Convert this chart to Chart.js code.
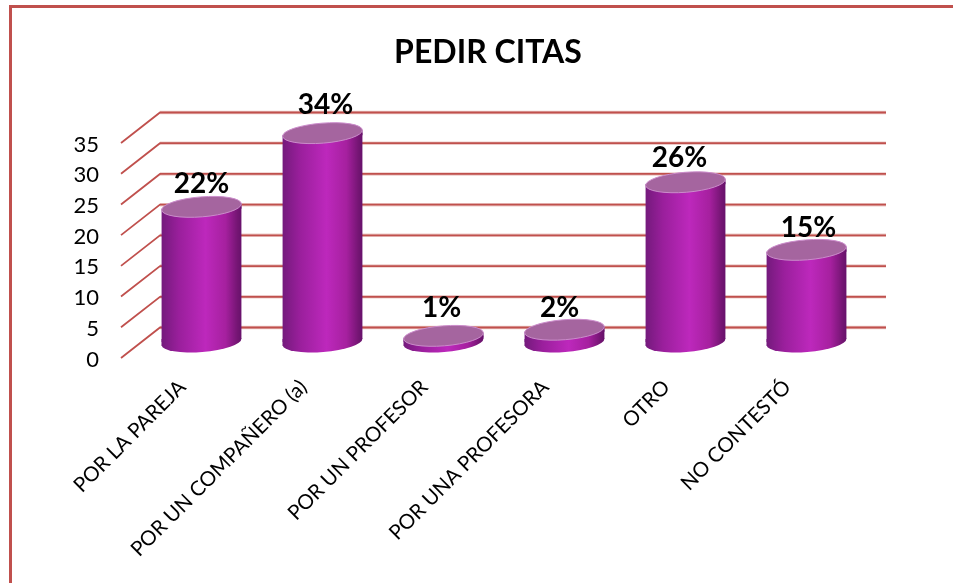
<!DOCTYPE html>
<html lang="es">
<head>
<meta charset="utf-8">
<title>PEDIR CITAS</title>
<style>
html,body{margin:0;padding:0;background:#fff;overflow:hidden;width:953px;height:583px}
#frame{position:absolute;left:9px;top:5px;width:944px;height:578px;border-top:3px solid #C0504D;border-left:3px solid #C0504D;box-sizing:border-box}
#wrap{position:absolute;left:23px;top:0;width:930px;height:583px}
canvas{display:block}
</style>
</head>
<body>
<div id="frame"></div>
<div id="wrap"><canvas id="c" width="930" height="583"></canvas></div>
<script src="https://cdn.jsdelivr.net/npm/chart.js@4/dist/chart.umd.min.js"></script>
<script>
const titleText = "PEDIR CITAS";
const categories = ["POR LA PAREJA", "POR UN COMPAÑERO (a)", "POR UN PROFESOR", "POR UNA PROFESORA", "OTRO", "NO CONTESTÓ"];
const values = [22, 34, 1, 2, 26, 15];
const yTicks = [0, 5, 10, 15, 20, 25, 30, 35];
const labelNudgeX = [0, 3, -2, -5, -6, 2];
const labelNudgeY = [-24, -29, -29, -23, -25, -23];

const FONT = "Lato, Carlito, sans-serif";
const DEPTH_X = 39, DEPTH_Y = 30.5;      // depth of the 3D floor
const MID_Y = 16;                        // bars stand half way into the depth
const GRID_RIGHT = 863, RED = "#C0504D";
const RX = 40, RY = 10, TILT = -0.08;
const TIP = RX * Math.sin(-TILT);

function barGradient(ctx, x) {
  const g = ctx.createLinearGradient(x - RX, 0, x + RX, 0);
  g.addColorStop(0, "#741A7C");
  g.addColorStop(0.22, "#9A1F9C");
  g.addColorStop(0.55, "#BD28BC");
  g.addColorStop(0.8, "#A6209F");
  g.addColorStop(0.95, "#741573");
  g.addColorStop(1, "#67116B");
  return g;
}

const scene = {
  id: "scene",
  beforeDatasetsDraw(chart) {
    const { ctx, scales: { x, y } } = chart;
    ctx.save();
    yTicks.forEach(v => {
      const py = y.getPixelForValue(v);
      const fx = x.left - 20, bx = fx + DEPTH_X, by = py - DEPTH_Y;
      ctx.strokeStyle = "rgba(192,80,77,0.3)"; ctx.lineWidth = 3.5;
      ctx.beginPath(); ctx.moveTo(bx, by); ctx.lineTo(GRID_RIGHT, by); ctx.stroke();
      ctx.strokeStyle = RED; ctx.lineWidth = 1.8;
      ctx.beginPath(); ctx.moveTo(fx, py); ctx.lineTo(bx, by); ctx.lineTo(GRID_RIGHT, by);
      ctx.stroke();
    });
    ctx.restore();

    // Bars stand half way into the depth, clipped to the tilted cylinder body
    const bars = chart.getDatasetMeta(0).data;
    ctx.save();
    ctx.translate(0, -MID_Y);
    bars.forEach(b => {
      ctx.fillStyle = barGradient(ctx, b.x);
      ctx.beginPath();
      ctx.ellipse(b.x, b.base, RX, RY, TILT, 0, Math.PI * 2);
      ctx.fill();
      ctx.beginPath();
      ctx.moveTo(b.x - RX, b.base - 3);
      ctx.lineTo(b.x + RX, b.base - 3);
      ctx.lineTo(b.x + RX, b.base - TIP);
      ctx.lineTo(b.x - RX, b.base + TIP);
      ctx.closePath();
      ctx.fill();
    });
    ctx.beginPath();
    bars.forEach(b => {
      ctx.moveTo(b.x - RX, b.y + TIP);
      ctx.lineTo(b.x + RX, b.y - TIP);
      ctx.lineTo(b.x + RX, b.base - TIP);
      ctx.lineTo(b.x - RX, b.base + TIP);
      ctx.closePath();
    });
    ctx.clip();
  },
  afterDatasetsDraw(chart) {
    const { ctx } = chart;
    ctx.restore();
    const bars = chart.getDatasetMeta(0).data;
    ctx.save();
    ctx.translate(0, -MID_Y);
    bars.forEach(b => {
      // side wall up to the tilted rim
      ctx.fillStyle = barGradient(ctx, b.x);
      ctx.beginPath();
      ctx.moveTo(b.x - RX, b.y + TIP);
      ctx.lineTo(b.x + RX, b.y - TIP);
      ctx.lineTo(b.x + RX, Math.min(b.y + 2, b.base - TIP));
      ctx.lineTo(b.x - RX, Math.min(b.y + 2, b.base + TIP));
      ctx.closePath();
      ctx.fill();
      // top cap
      ctx.fillStyle = "#A5659F";
      ctx.strokeStyle = "#CB8CCB";
      ctx.lineWidth = 1;
      ctx.beginPath();
      ctx.ellipse(b.x, b.y, RX, RY, TILT, 0, Math.PI * 2);
      ctx.fill();
      ctx.stroke();
    });
    ctx.restore();

    ctx.save();
    ctx.fillStyle = "#000";
    ctx.font = "bold 28px " + FONT;
    ctx.textAlign = "center";
    ctx.textBaseline = "middle";
    bars.forEach((b, i) => {
      ctx.fillText(values[i] + "%", b.x + labelNudgeX[i], b.y - MID_Y + labelNudgeY[i] + 1);
    });
    ctx.restore();
  }
};

new Chart(document.getElementById("c"), {
  type: "bar",
  data: {
    labels: categories,
    datasets: [{
      data: values,
      barThickness: RX * 2,
      borderWidth: 0,
      backgroundColor: c => {
        const px = c.chart.scales.x ? c.chart.scales.x.getPixelForTick(c.dataIndex) : NaN;
        return Number.isFinite(px) ? barGradient(c.chart.ctx, px) : "#A6209F";
      }
    }]
  },
  options: {
    responsive: false,
    animation: false,
    events: [],
    plugins: {
      legend: { display: false },
      tooltip: { enabled: false },
      title: {
        display: true,
        text: titleText,
        color: "#000",
        font: { family: FONT, size: 32, weight: "bold" },
        padding: { top: 33, bottom: 71.6 }
      }
    },
    scales: {
      x: {
        grid: { display: false, drawTicks: false },
        border: { display: false },
        afterFit(s) { s.height = 225; },
        ticks: {
          autoSkip: false,
          minRotation: 45,
          maxRotation: 45,
          padding: 17,
          labelOffset: -19,
          color: "#000",
          font: { family: FONT, size: 20.5 }
        }
      },
      y: {
        min: 0,
        max: 35,
        afterFit(s) { s.width = 118; },
        afterBuildTicks(s) { s.ticks = yTicks.map(v => ({ value: v })); },
        grid: { display: false, drawTicks: false },
        border: { display: false },
        ticks: {
          padding: 42,
          color: "#000",
          callback: v => ["", String(v)],
          font: { family: FONT, size: 22, lineHeight: 0.14 }
        }
      },
      spacer: {
        position: "right",
        min: 0,
        max: 1,
        afterFit(s) { s.width = 86; },
        grid: { display: false, drawTicks: false },
        border: { display: false },
        ticks: { display: false }
      }
    }
  },
  plugins: [scene]
});
</script>
</body>
</html>
